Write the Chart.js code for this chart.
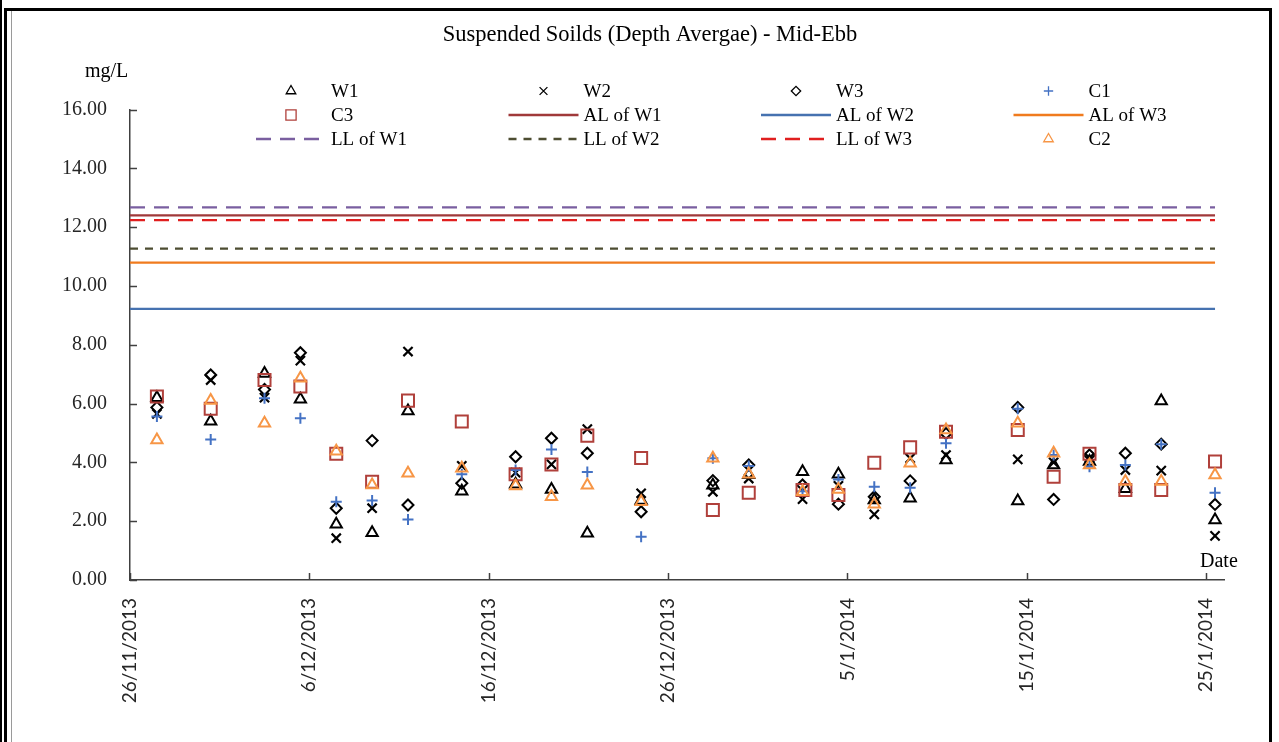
<!DOCTYPE html>
<html>
<head>
<meta charset="utf-8">
<title>Suspended Soilds (Depth Avergae) - Mid-Ebb</title>
<script src="https://cdn.jsdelivr.net/npm/chart.js@4.4.0/dist/chart.umd.min.js"></script>
<style>
  html, body { margin: 0; padding: 0; background: #fff; }
  #wrap { position: relative; width: 1279px; height: 742px; overflow: hidden; background: #fff; }
  #wrap canvas { position: absolute; left: 0; top: 0; }
  .rule { position: absolute; }
</style>
</head>
<body>
<div id="wrap">
  <canvas id="ssChart" width="1279" height="742"></canvas>
  <div class="rule" style="left:0;top:0;width:2px;height:742px;background:#000"></div>
  <div class="rule" style="left:4px;top:8px;width:3px;height:734px;background:#000"></div>
  <div class="rule" style="left:4px;top:8px;width:1268px;height:3px;background:#000"></div>
  <div class="rule" style="left:1269px;top:8px;width:3px;height:734px;background:#000"></div>
  <div class="rule" style="left:11px;top:11px;width:1px;height:731px;background:#9a9a9a"></div>
</div>
<script>
// Sampling dates (mid-ebb surveys)
const sampleDates = [
  '27/11/2013', '30/11/2013', '3/12/2013', '5/12/2013', '7/12/2013', '9/12/2013',
  '11/12/2013', '14/12/2013', '17/12/2013', '19/12/2013', '21/12/2013', '24/12/2013',
  '28/12/2013', '30/12/2013', '2/1/2014', '4/1/2014', '6/1/2014', '8/1/2014',
  '10/1/2014', '14/1/2014', '16/1/2014', '18/1/2014', '20/1/2014', '22/1/2014', '25/1/2014'
];

// Depth-averaged suspended solids, mg/L
const W1 = [6.20, 5.40, 7.02, 6.15, 1.90, 1.61, 5.75, 3.02, 3.26, 3.08, 1.59, 2.70, 3.22, 3.58, 3.68, 3.60, 2.72, 2.78, 4.08, 2.69, 3.91, 4.03, 3.10, 6.09, 2.04];
const W2 = [5.65, 6.80, 6.20, 7.46, 1.42, 2.44, 7.77, 3.88, 3.65, 3.93, 5.13, 2.95, 3.00, 3.45, 2.75, 3.20, 2.23, 4.14, 4.25, 4.10, 4.00, 4.15, 3.74, 3.72, 1.50];
const W3 = [5.87, 6.97, 6.48, 7.73, 2.44, 4.74, 2.55, 3.29, 4.19, 4.82, 4.31, 2.32, 3.38, 3.91, 3.23, 2.58, 2.83, 3.37, 4.98, 5.87, 2.74, 4.25, 4.31, 4.62, 2.57];
const C1 = [5.56, 4.78, 6.18, 5.50, 2.66, 2.70, 2.06, 3.60, 3.74, 4.44, 3.67, 1.47, 4.14, 3.88, 3.02, 3.42, 3.17, 3.14, 4.65, 5.82, 4.25, 3.85, 3.91, 4.62, 2.97];
const C3 = [6.24, 5.82, 6.80, 6.58, 4.29, 3.34, 6.10, 5.39, 3.60, 3.93, 4.91, 4.15, 2.38, 2.97, 3.06, 2.89, 3.99, 4.51, 5.04, 5.10, 3.51, 4.29, 3.06, 3.06, 4.03];
const C2 = [4.76, 6.10, 5.33, 6.86, 4.38, 3.23, 3.63, 3.80, 3.20, 2.83, 3.22, 2.66, 4.14, 3.60, 3.00, 3.08, 2.58, 3.97, 5.10, 5.33, 4.31, 3.91, 3.35, 3.35, 3.57];

// Action and limit levels, mg/L
const AL_W1 = 12.40, AL_W2 = 9.22, AL_W3 = 10.79;
const LL_W1 = 12.67, LL_W2 = 11.27, LL_W3 = 12.24;

// Date axis: 26/11/2013 is day 0, labels every 10 days
const xTickLabels = ['26/11/2013', '6/12/2013', '16/12/2013', '26/12/2013', '5/1/2014', '15/1/2014', '25/1/2014'];
const AXIS_DAYS = 61;

const ORIGIN = Date.UTC(2013, 10, 26);
function dayOf(s) {
  const [d, m, y] = s.split('/').map(Number);
  return (Date.UTC(y, m - 1, d) - ORIGIN) / 86400000;
}
// each sample sits in the middle of its day slot
const sampleX = sampleDates.map(s => dayOf(s) + 0.5);
const series = vals => vals.map((v, i) => ({ x: sampleX[i], y: v }));
const level = v => [{ x: 0, y: v }, { x: sampleX[sampleX.length - 1], y: v }];

const SERIF = '"Liberation Serif", "Times New Roman", serif';

function marks(label, vals, style, color, radius, width) {
  return {
    label, data: series(vals), showLine: false,
    pointStyle: style, pointRadius: radius, pointBorderColor: color,
    pointBackgroundColor: 'rgba(0,0,0,0)', pointBorderWidth: width,
    borderColor: color, backgroundColor: 'rgba(0,0,0,0)'
  };
}
function limitLine(label, v, color, dash) {
  return {
    label, data: level(v), showLine: true, pointRadius: 0,
    borderColor: color, borderWidth: 2.3, borderDash: dash, backgroundColor: color
  };
}

// legend order: 4 columns x 3 rows
const datasets = [
  marks('W1', W1, 'triangle', '#000000', 6.5, 2),
  marks('W2', W2, 'crossRot', '#000000', 6.5, 2.2),
  marks('W3', W3, 'rectRot', '#000000', 5.5, 2),
  marks('C1', C1, 'cross', '#4472c4', 5.5, 2),
  marks('C3', C3, 'rect', '#b0403b', 8.5, 2),
  limitLine('AL of W1', AL_W1, '#a0393a', []),
  limitLine('AL of W2', AL_W2, '#4672b0', []),
  limitLine('AL of W3', AL_W3, '#f07b1e', []),
  limitLine('LL of W1', LL_W1, '#7a5fa0', [15, 9]),
  limitLine('LL of W2', LL_W2, '#4d4d32', [8, 7]),
  limitLine('LL of W3', LL_W3, '#e01f1f', [15, 9]),
  marks('C2', C2, 'triangle', '#f79646', 6.5, 2)
];
// later series are painted over earlier ones
datasets.forEach((d, i) => { d.order = datasets.length - i; });

const decorations = {
  id: 'decorations',
  afterDraw(chart) {
    const ctx = chart.ctx;
    const xs = chart.scales.x, ys = chart.scales.y;
    const area = chart.chartArea;
    ctx.save();

    // inward tick marks
    ctx.strokeStyle = '#404040';
    ctx.lineWidth = 1.5;
    ctx.beginPath();
    for (let v = 0; v <= 16; v += 2) {
      const y = Math.round(ys.getPixelForValue(v)) + 0.5;
      ctx.moveTo(area.left, y); ctx.lineTo(area.left + 7, y);
    }
    for (let t = 0; t < xTickLabels.length; t++) {
      const x = Math.round(xs.getPixelForValue(t * 10)) + 0.5;
      ctx.moveTo(x, area.bottom); ctx.lineTo(x, area.bottom - 7);
    }
    ctx.stroke();

    // title and axis captions
    ctx.fillStyle = '#000';
    ctx.textBaseline = 'alphabetic';
    ctx.textAlign = 'center';
    ctx.font = '22.5px ' + SERIF;
    ctx.fillText('Suspended Soilds (Depth Avergae) - Mid-Ebb', 650, 41);
    ctx.textAlign = 'left';
    ctx.font = '20px ' + SERIF;
    ctx.fillText('mg/L', 85, 77);
    ctx.fillText('Date', 1200, 567);

    // legend grid
    const colX = [256, 508.5, 761, 1013.5];
    const rowY = [91, 115, 139];
    ctx.font = '19px ' + SERIF;
    ctx.textBaseline = 'middle';
    chart.data.datasets.forEach((d, i) => {
      const x0 = colX[i % 4], y = rowY[Math.floor(i / 4)];
      if (d.showLine) {
        ctx.save();
        ctx.strokeStyle = d.borderColor;
        ctx.lineWidth = 2.3;
        ctx.setLineDash(d.borderDash || []);
        ctx.beginPath();
        ctx.moveTo(x0, y); ctx.lineTo(x0 + 70, y);
        ctx.stroke();
        ctx.restore();
      } else {
        ctx.save();
        ctx.strokeStyle = d.pointBorderColor;
        ctx.fillStyle = 'rgba(0,0,0,0)';
        ctx.lineWidth = 1.3;
        Chart.helpers.drawPoint(ctx, {
          pointStyle: d.pointStyle, rotation: 0,
          radius: d.pointRadius * 0.85, borderWidth: 1.3
        }, x0 + 35, y);
        ctx.restore();
      }
      ctx.fillStyle = '#000';
      ctx.fillText(d.label, x0 + 75, y + 1);
    });
    ctx.restore();
  }
};

new Chart(document.getElementById('ssChart'), {
  type: 'scatter',
  data: { datasets },
  plugins: [decorations],
  options: {
    responsive: false,
    animation: false,
    events: [],
    layout: { padding: { left: 0, right: 55, top: 109.5, bottom: 0 } },
    plugins: { legend: { display: false }, title: { display: false }, tooltip: { enabled: false } },
    scales: {
      x: {
        type: 'linear', min: 0, max: AXIS_DAYS,
        grid: { drawOnChartArea: false, drawTicks: false },
        border: { display: true, color: '#404040', width: 1.5 },
        ticks: {
          stepSize: 10, includeBounds: false, autoSkip: false,
          minRotation: 90, maxRotation: 90, padding: 18,
          color: '#262626', font: { family: 'Lato, "DejaVu Sans", sans-serif', size: 19 },
          callback: v => (v % 10 === 0 && xTickLabels[v / 10]) ? xTickLabels[v / 10] : ''
        },
        afterFit: s => { s.height = 162; }
      },
      y: {
        type: 'linear', min: 0, max: 16,
        grid: { drawOnChartArea: false, drawTicks: false },
        border: { display: true, color: '#404040', width: 1.5 },
        ticks: {
          stepSize: 2, padding: 23, color: '#262626',
          font: { family: SERIF, size: 20 },
          callback: v => v.toFixed(2)
        },
        afterFit: s => { s.width = 130; }
      }
    }
  }
});
</script>
</body>
</html>
